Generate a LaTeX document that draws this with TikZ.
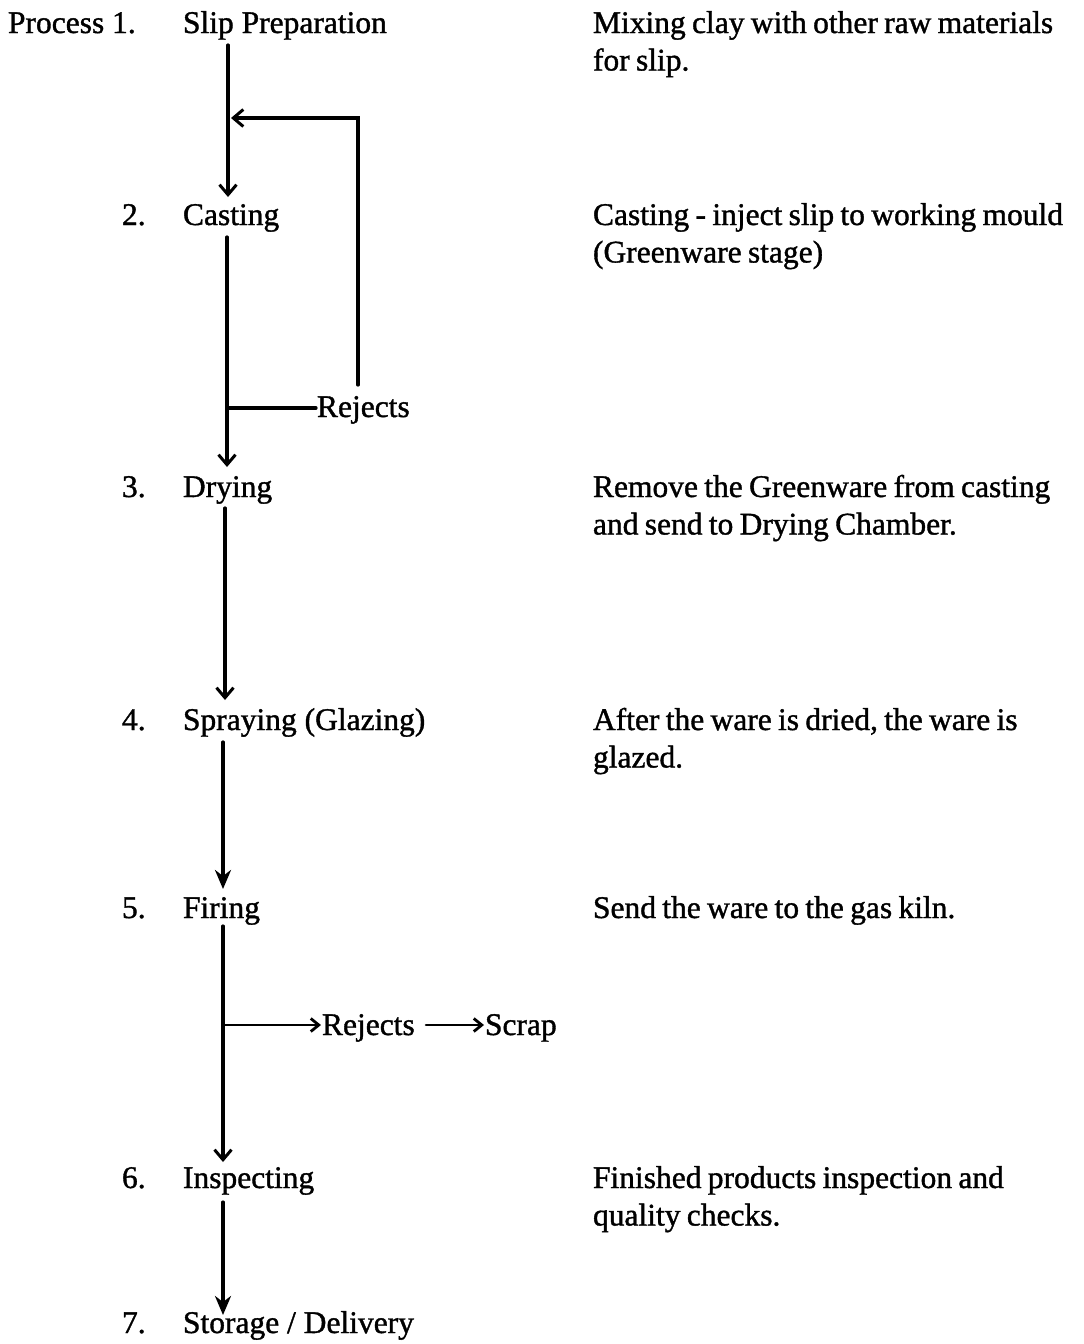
\documentclass[tikz,border=0pt]{standalone}
\usepackage{fontspec}
\setmainfont{Liberation Serif}[FakeBold=1.2]
\usetikzlibrary{arrows.meta}
\newcommand{\descsetup}{\spaceskip=6.3pt plus 3pt minus 1pt\relax}
\begin{document}
\begin{tikzpicture}[x=1pt,y=-1pt,
  txt/.style={anchor=base west,inner sep=0pt,outer sep=0pt,font=\fontsize{31.5}{37.5}\selectfont},
  desc/.style={txt,text width=640pt,align=left,execute at begin node=\descsetup},
  flow/.style={line width=3.2pt,line cap=round},
  barb/.style={flow,-{Straight Barb[length=10pt,width=17pt,line width=3pt]}},
  solid tip/.style={flow,-{Stealth[length=19pt,width=16pt,inset=6pt]}},
  small tip/.style={flow,line width=2.6pt,-{Straight Barb[length=8pt,width=13pt,line width=2.8pt]}}]
\useasboundingbox (0,0) rectangle (1084,1344);
\fill[white] (0,0) rectangle (1084,1344);

% left labels
\node[txt] (p1) at (8,33) {Process 1.};
\node[txt] (n2) at (122,225) {2.};
\node[txt] (n3) at (122,497) {3.};
\node[txt] (n4) at (122,730) {4.};
\node[txt] (n5) at (122,918) {5.};
\node[txt] (n6) at (122,1188) {6.};
\node[txt] (n7) at (122,1333) {7.};

% step names
\node[txt] (s1) at (183,33) {Slip Preparation};
\node[txt] (s2) at (183,225) {Casting};
\node[txt] (s3) at (183,497) {Drying};
\node[txt] (s4) at (183,730) {Spraying (Glazing)};
\node[txt] (s5) at (183,918) {Firing};
\node[txt] (s6) at (183,1188) {Inspecting};
\node[txt] (s7) at (183,1333) {Storage / Delivery};

% descriptions
\node[desc] (d1) at (593,33) {Mixing clay with other raw materials\\for slip.};
\node[desc] (d2) at (593,225) {Casting - inject slip to working mould\\(Greenware stage)};
\node[desc] (d3) at (593,497) {Remove the Greenware from casting\\and send to Drying Chamber.};
\node[desc] (d4) at (593,730) {After the ware is dried, the ware is\\glazed.};
\node[desc] (d5) at (593,918) {Send the ware to the gas kiln.};
\node[desc] (d6) at (593,1188) {Finished products inspection and\\quality checks.};

% reject labels
\node[txt] (r1) at (317,417) {Rejects};
\node[txt] (r2) at (322,1035) {Rejects};
\node[txt] (sc) at (485,1035) {Scrap};

% connector end points
\coordinate (a1s) at (228,45);
\coordinate (a1e) at (228,197);
\coordinate (fbin) at (231,118);
\coordinate (fbtop) at (358,118);
\coordinate (fbbot) at (358,385);
\coordinate (a2s) at (227,237);
\coordinate (a2e) at (227,467);
\coordinate (j1) at (227,408);
\coordinate (r1w) at (316,408);
\coordinate (a3s) at (225,508);
\coordinate (a3e) at (225,700);
\coordinate (a4s) at (223,742);
\coordinate (a4e) at (223,889);
\coordinate (a5s) at (223,926);
\coordinate (a5e) at (223,1162);
\coordinate (j2) at (223,1025);
\coordinate (r2w) at (321,1025);
\coordinate (r2e) at (426,1025);
\coordinate (scw) at (484,1025);
\coordinate (a6s) at (223,1202);
\coordinate (a6e) at (223,1315);

% main flow
\draw[barb] (a1s) -- (a1e);
\draw[barb] (a2s) -- (a2e);
\draw[barb] (a3s) -- (a3e);
\draw[solid tip] (a4s) -- (a4e);
\draw[barb] (a5s) -- (a5e);
\draw[solid tip] (a6s) -- (a6e);

% casting rejects loop
\draw[flow] (j1) -- (r1w);
\draw[barb] (fbbot) -- (fbtop) -- (fbin);

% firing rejects
\draw[small tip] (j2) -- (r2w);
\draw[small tip] (r2e) -- (scw);
\end{tikzpicture}
\end{document}
